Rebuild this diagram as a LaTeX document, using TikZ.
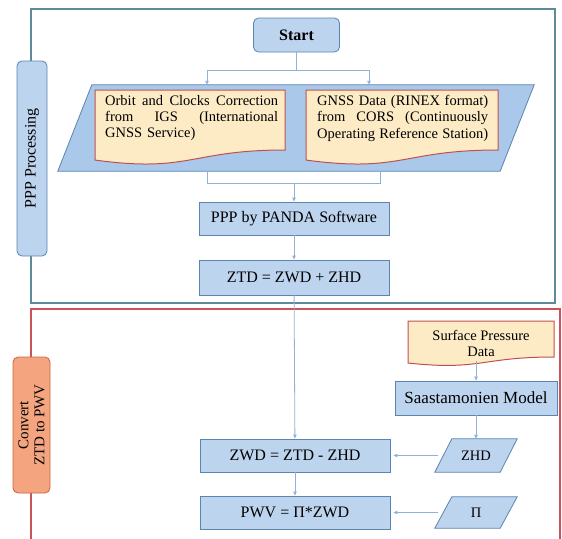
\documentclass[tikz,border=0pt]{standalone}
\usepackage{fontspec}
\setmainfont{Liberation Serif}
\usetikzlibrary{calc,arrows.meta}
\pgfdeclarelayer{back}
\pgfdeclarelayer{mid}
\pgfsetlayers{back,mid,main}
\definecolor{boxfill}{HTML}{BDD4EE}
\definecolor{boxline}{HTML}{5B84B1}
\definecolor{parafill}{HTML}{A9C8EA}
\definecolor{docfill}{HTML}{FDEBC6}
\definecolor{docline}{HTML}{C0504D}
\definecolor{connc}{HTML}{8FB2DA}
\definecolor{frametop}{HTML}{5F8B99}
\definecolor{framered}{HTML}{C8545A}
\definecolor{orangefill}{HTML}{F4A57F}
\definecolor{orangeline}{HTML}{C8663F}
\tikzset{
  fbox/.style={draw=boxline, fill=boxfill, line width=0.8pt, inner sep=0pt, font=\fontsize{16}{19}\selectfont},
  paranode/.style={inner sep=0pt, font=\fontsize{14.5}{16}\selectfont},
  parashape/.style={draw=boxline, fill=boxfill, line width=0.8pt},
  doctext/.style={inner sep=0pt, font=\fontsize{14.5}{16.3}\selectfont, align=left},
  docshape/.style={draw=docline, fill=docfill, line width=1pt},
  conn/.style={draw=connc, line width=0.8pt},
  arr/.style={conn, -{Triangle[length=4pt,width=3.5pt]}},
  frameA/.style={draw=frametop, line width=1.2pt},
  frameB/.style={draw=framered, line width=1.2pt},
  lab/.style={rounded corners=5pt, line width=0.8pt, inner sep=0pt, font=\fontsize{16}{19}\selectfont}
}
\newcommand\docshape[4]{%
  \path[docshape] ({#1},{#2}) -- ({#3},{#2}) -- ({#3},{#2+0.8*#4})
    .. controls ({(#1+#3)/2},{#2+0.8*#4}) and ({(#1+#3)/2},{#2+1.107*#4}) ..
    ({#1},{#2+0.934*#4}) -- cycle;}
% parallelogram around a rectangle node: #1 style, #2 node, #3 half slant offset
\newcommand\parashape[3]{%
  \path[parashape,#1] ($(#2.south west)+(-#3,0)$) -- ($(#2.south east)+(-#3,0)$)
    -- ($(#2.north east)+(#3,0)$) -- ($(#2.north west)+(#3,0)$) -- cycle;}
\newcommand\sline[2]{\makebox[#1][l]{#2}}
\begin{document}
\begin{tikzpicture}[x=1pt,y=-1pt]
\useasboundingbox (0,0) rectangle (562,538);
% frames
\begin{pgfonlayer}{back}
  \draw[frameA] (31,9) rectangle (555,303);
  \draw[frameB] (31,540) -- (31,309) -- (560,309) -- (560,540);
\end{pgfonlayer}
\node[paranode, minimum width=442pt, minimum height=86pt] (big) at (296,128) {};
\begin{pgfonlayer}{back}
  \parashape{fill=parafill}{big}{17}
\end{pgfonlayer}
\begin{pgfonlayer}{mid}
  \docshape{95}{90}{285}{75}
  \docshape{306}{90}{498}{75}
  \docshape{408}{321}{554}{45}
\end{pgfonlayer}
% side labels
\node[lab, fill=boxfill, draw=boxline, rotate=90, minimum width=195pt, minimum height=30pt] (lppp) at (32,158.5) {PPP Processing};
\node[lab, fill=orangefill, draw=orangeline, rotate=90, minimum width=136pt, minimum height=37pt,
      align=center, font=\fontsize{15}{16}\selectfont] (lconv) at (31.5,425) {Convert\\ZTD to PWV};
% nodes
\node[fbox, rounded corners=5pt, minimum width=86pt, minimum height=34pt, font=\bfseries\fontsize{16}{19}\selectfont] (start) at (296.5,35) {Start};
\node[doctext, text width=174pt, anchor=north west] (igs) at (105,95)
  {\sline{173pt}{Orbit\hfill and\hfill Clocks\hfill Correction}\\
   \sline{173pt}{from\hfill IGS\hfill (International}\\
   GNSS Service)};
\node[doctext, text width=174pt, anchor=north west] (gnss) at (317,95)
  {\sline{171pt}{GNSS\hfill Data\hfill (RINEX\hfill format)}\\
   \sline{171pt}{from\hfill CORS\hfill (Continuously}\\
   \sline{171pt}{Operating\hfill Reference\hfill Station)}};
\node[fbox, minimum width=190pt, minimum height=33pt] (ppp) at (294,218.5) {PPP by PANDA Software};
\node[fbox, minimum width=190pt, minimum height=35pt] (ztd) at (294,277.5) {ZTD = ZWD + ZHD};
\node[doctext, align=center] (surf) at (481,343.5) {Surface Pressure\\Data};
\node[fbox, minimum width=162pt, minimum height=34pt, font=\fontsize{17}{19}\selectfont] (saast) at (476,398) {Saastamonien Model};
\node[fbox, minimum width=190pt, minimum height=33pt] (zwd) at (295,455.5) {ZWD = ZTD - ZHD};
\node[fbox, minimum width=190pt, minimum height=33pt] (pwv) at (295,512.5) {PWV = Π*ZWD};
\node[paranode, minimum width=65pt, minimum height=33pt] (zhd) at (476,455.5) {ZHD};
\node[paranode, minimum width=65pt, minimum height=31pt] (pi) at (476,512.5) {Π};
\begin{pgfonlayer}{mid}
  \parashape{}{zhd}{8.5}
  \parashape{}{pi}{8.5}
\end{pgfonlayer}
% connectors
\coordinate (bl) at (207,70);
\coordinate (br) at (369,70);
\coordinate (ml) at (207,183);
\coordinate (mr) at (380,183);
\coordinate (sbot) at (476,361);
\draw[conn] (start.south) -- (start.south |- bl);
\draw[conn] (bl) -- (br);
\draw[arr] (bl) -- (bl |- big.north);
\draw[arr] (br) -- (br |- big.north);
\draw[conn] (ml |- big.south) -- (ml) -- (mr) -- (mr |- big.south);
\draw[arr] (ppp.north |- ml) -- (ppp.north);
\draw[arr] (ppp) -- (ztd);
\draw[arr] (ztd) -- (zwd);
\draw[arr] (sbot) -- (saast);
\draw[arr] (saast) -- (zhd);
\draw[arr, shorten <=5pt, shorten >=3pt] (zhd.west) -- (zwd.east);
\draw[arr] (zwd) -- (pwv);
\draw[arr, shorten <=5pt, shorten >=3pt] (pi.west) -- (pwv.east);
\end{tikzpicture}
\end{document}
